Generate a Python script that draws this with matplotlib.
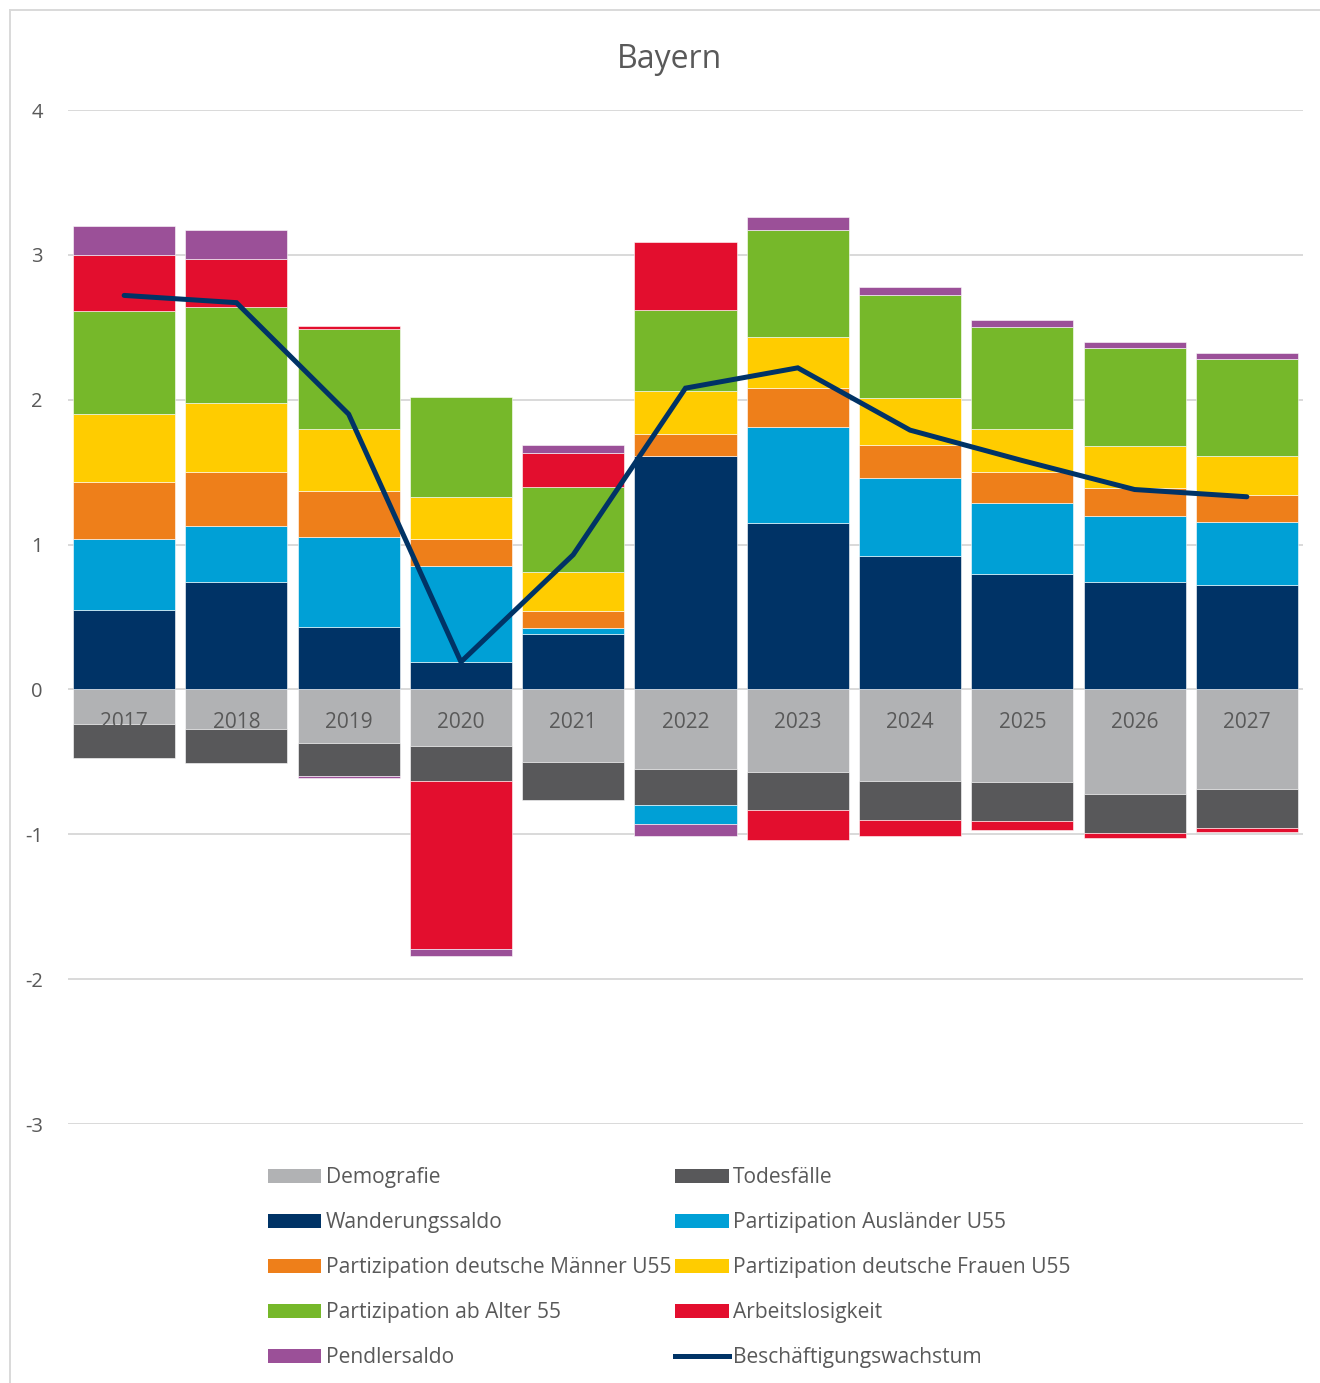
import numpy as np
import matplotlib
matplotlib.use("Agg")
import matplotlib.pyplot as plt
from matplotlib.patches import Patch
from matplotlib.lines import Line2D

plt.rcParams['font.family'] = ['Open Sans', 'DejaVu Sans']
plt.rcParams['axes.unicode_minus'] = False

# Daten (Beiträge zum Beschäftigungswachstum, Bayern)
jahre = ['2017', '2018', '2019', '2020', '2021', '2022', '2023', '2024', '2025', '2026', '2027']
demografie = [-0.24, -0.27, -0.37, -0.39, -0.50, -0.55, -0.57, -0.63, -0.64, -0.72, -0.69]
todesfaelle = [-0.23, -0.24, -0.23, -0.24, -0.26, -0.25, -0.26, -0.27, -0.27, -0.27, -0.27]
wanderung = [0.55, 0.74, 0.43, 0.19, 0.38, 1.61, 1.15, 0.92, 0.80, 0.74, 0.72]
auslaender = [0.49, 0.39, 0.62, 0.66, 0.045, -0.13, 0.66, 0.54, 0.49, 0.455, 0.435]
maenner = [0.39, 0.37, 0.32, 0.19, 0.115, 0.15, 0.27, 0.23, 0.21, 0.195, 0.185]
frauen = [0.47, 0.48, 0.43, 0.29, 0.27, 0.30, 0.35, 0.32, 0.30, 0.29, 0.27]
ab55 = [0.71, 0.66, 0.69, 0.69, 0.59, 0.56, 0.74, 0.71, 0.70, 0.68, 0.67]
arbeitslos = [0.39, 0.33, 0.02, -1.16, 0.23, 0.47, -0.21, -0.11, -0.06, -0.035, -0.025]
pendler = [0.20, 0.20, -0.01, -0.05, 0.06, -0.08, 0.09, 0.06, 0.05, 0.04, 0.04]
wachstum = [2.72, 2.67, 1.90, 0.19, 0.93, 2.08, 2.22, 1.79, 1.58, 1.38, 1.33]

serien = [
    ("Demografie", demografie, "#B1B2B4"),
    ("Todesfälle", todesfaelle, "#58585A"),
    ("Wanderungssaldo", wanderung, "#003366"),
    ("Partizipation Ausländer U55", auslaender, "#00A0D6"),
    ("Partizipation deutsche Männer U55", maenner, "#EE7F1A"),
    ("Partizipation deutsche Frauen U55", frauen, "#FFCC00"),
    ("Partizipation ab Alter 55", ab55, "#76B82A"),
    ("Arbeitslosigkeit", arbeitslos, "#E30E2E"),
    ("Pendlersaldo", pendler, "#9B5098"),
]
linien_farbe = "#003366"
text_farbe = "#595959"

fig = plt.figure(figsize=(13.2, 13.83), dpi=100)
ax = fig.add_axes([68 / 1320, 1 - 1124 / 1383, 1235 / 1320, 1014 / 1383])

x = np.arange(len(jahre))
pos_bottom = np.zeros(len(jahre))
neg_bottom = np.zeros(len(jahre))
handles = {}
for name, werte, farbe in serien:
    v = np.array(werte)
    bottom = np.where(v >= 0, pos_bottom, neg_bottom)
    ax.bar(x, v, bottom=bottom, width=0.91, color=farbe, edgecolor="white",
           linewidth=0.4, zorder=1)
    pos_bottom += np.where(v >= 0, v, 0)
    neg_bottom += np.where(v < 0, v, 0)
    handles[name] = Patch(facecolor=farbe, edgecolor="none")

ax.plot(x, wachstum, color=linien_farbe, linewidth=3.6, zorder=3,
        solid_capstyle='round', solid_joinstyle='miter')
handles["Beschäftigungswachstum"] = Line2D([0], [0], color=linien_farbe, linewidth=3.6)

# Gitterlinien
for yv in range(-3, 5):
    ax.axhline(yv, color="#D9D9D9", linewidth=1.4, zorder=0)

ax.set_xlim(-0.5, len(jahre) - 0.5)
ax.set_ylim(-3, 4)
ax.set_yticks(range(-3, 5))
ax.set_yticklabels([str(v) for v in range(-3, 5)])
ax.set_xticks(x)
ax.set_xticklabels(jahre)
ax.spines['bottom'].set_position(('data', 0))
for s in ax.spines.values():
    s.set_visible(False)
ax.tick_params(axis='x', length=0, pad=16, labelsize=15, labelcolor=text_farbe)
ax.tick_params(axis='y', length=0, pad=18, labelsize=14.5, labelcolor=text_farbe)

fig.text(670 / 1320, 1 - 59 / 1383, "Bayern", ha='center', va='center',
         fontsize=23, color=text_farbe)

reihenfolge = ["Demografie", "Wanderungssaldo", "Partizipation deutsche Männer U55",
               "Partizipation ab Alter 55", "Pendlersaldo",
               "Todesfälle", "Partizipation Ausländer U55", "Partizipation deutsche Frauen U55",
               "Arbeitslosigkeit", "Beschäftigungswachstum"]
leg = fig.legend([handles[n] for n in reihenfolge], reihenfolge, ncol=2,
                 loc='upper left', bbox_to_anchor=(268 / 1320, 1 - 1167 / 1383),
                 frameon=False, fontsize=15.1, handlelength=2.55, handleheight=0.65,
                 handletextpad=0.2, columnspacing=0.2, labelspacing=1.15, borderpad=0,
                 borderaxespad=0)
for t in leg.get_texts():
    t.set_color(text_farbe)

# Rahmen des Diagramms
fig.add_artist(Line2D([10 / 1320, 10 / 1320], [0, 1 - 10 / 1383], color="#D9D9D9", linewidth=1.4))
fig.add_artist(Line2D([10 / 1320, 1], [1 - 10 / 1383, 1 - 10 / 1383], color="#D9D9D9", linewidth=1.4))

fig.savefig("out.png", dpi=100)
